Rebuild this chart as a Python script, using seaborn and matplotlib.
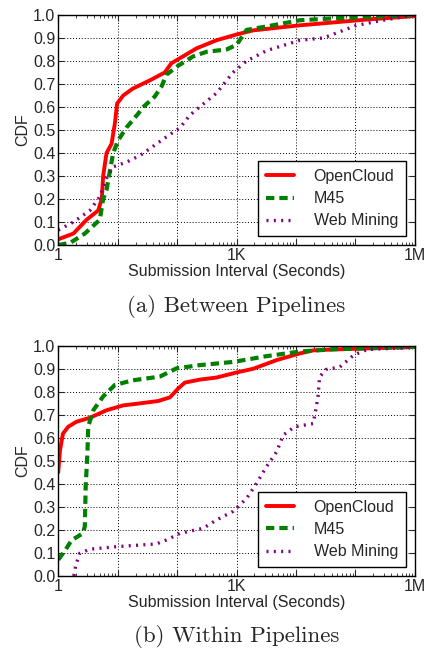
import numpy as np
import pandas as pd
import matplotlib
matplotlib.use("Agg")
import matplotlib.pyplot as plt
import matplotlib.ticker as mticker
import seaborn as sns

sns.set_style("ticks")
plt.rcParams['font.family'] = ['Liberation Sans', 'DejaVu Sans']

# ---- data: (a) Between Pipelines ----
a_open_x = [1, 1.8, 3, 4.7, 5.4, 5.7, 6.5, 7.9, 9, 9.8, 12.4, 18, 35, 62, 80, 126, 213, 460, 1000, 1900, 11700, 155000, 1e6]
a_open_y = [0.025, 0.05, 0.11, 0.15, 0.2, 0.3, 0.4, 0.44, 0.53, 0.615, 0.65, 0.68, 0.716, 0.75, 0.79, 0.82, 0.855, 0.89, 0.915, 0.933, 0.955, 0.98, 0.995]
a_m45_x = [1, 1.6, 2.8, 5, 5.7, 6.5, 8.4, 10.2, 14, 22, 27, 42, 55, 66, 105, 187, 315, 680, 1000, 1480, 3200, 11700, 42000, 1e6]
a_m45_y = [0.0, 0.01, 0.05, 0.11, 0.2, 0.24, 0.4, 0.455, 0.51, 0.57, 0.6, 0.645, 0.69, 0.74, 0.78, 0.82, 0.84, 0.85, 0.87, 0.935, 0.95, 0.977, 0.985, 1.0]
a_web_x = [1, 1.8, 3.4, 5, 6.5, 8.4, 14, 24, 40, 66, 112, 165, 240, 460, 870, 1480, 3200, 11700, 29000, 105000, 295000, 1e6]
a_web_y = [0.065, 0.1, 0.15, 0.21, 0.29, 0.34, 0.36, 0.39, 0.43, 0.47, 0.51, 0.565, 0.6, 0.66, 0.75, 0.8, 0.845, 0.89, 0.9, 0.955, 0.977, 1.0]

# ---- data: (b) Within Pipelines ----
b_open_x = [1, 1.07, 1.2, 1.47, 2.03, 3.4, 6.5, 12.4, 20.8, 48, 76, 105, 135, 240, 460, 1000, 1900, 4750, 11700, 19500, 42000, 1e6]
b_open_y = [0.45, 0.545, 0.618, 0.648, 0.67, 0.687, 0.72, 0.741, 0.748, 0.76, 0.776, 0.815, 0.84, 0.853, 0.862, 0.884, 0.9, 0.938, 0.967, 0.98, 0.984, 0.995]
b_m45_x = [1, 1.3, 1.68, 2.6, 2.8, 2.9, 3.1, 3.2, 3.9, 5.7, 9, 18, 51, 66, 98, 240, 890, 3200, 11700, 42000, 1e6]
b_m45_y = [0.07, 0.11, 0.155, 0.185, 0.215, 0.39, 0.535, 0.65, 0.72, 0.78, 0.83, 0.85, 0.866, 0.88, 0.902, 0.916, 0.93, 0.955, 0.975, 0.985, 0.995]
b_web_x = [1.83, 1.98, 2.3, 3.4, 9.6, 45, 66, 112, 275, 460, 870, 1480, 2170, 3200, 4750, 6100, 9500, 19500, 21500, 23500, 25000, 32000, 55000, 94000, 160000, 1e6]
b_web_y = [0.0, 0.048, 0.098, 0.116, 0.127, 0.139, 0.156, 0.185, 0.207, 0.243, 0.28, 0.337, 0.402, 0.475, 0.54, 0.612, 0.648, 0.662, 0.72, 0.778, 0.865, 0.897, 0.908, 0.96, 0.984, 0.993]

series_names = ["OpenCloud", "M45", "Web Mining"]
captions = ["(a) Between Pipelines", "(b) Within Pipelines"]
xtick_labels = {1: "1", 1e3: "1K", 1e6: "1M"}

colors = ["#ff0000", "#008000", "#800080"]
styles = ["-", (0, (2.0, 1.2)), (0, (0.6, 1.6, 0.6, 1.6))]
widths = [2.8, 3.0, 2.4]

fig = plt.figure(figsize=(4.25, 6.5), dpi=100)
ax_a = fig.add_axes([0.137, 0.623, 0.839, 0.354])
ax_b = fig.add_axes([0.137, 0.114, 0.839, 0.354])

panels = [
    (ax_a, [(a_open_x, a_open_y), (a_m45_x, a_m45_y), (a_web_x, a_web_y)]),
    (ax_b, [(b_open_x, b_open_y), (b_m45_x, b_m45_y), (b_web_x, b_web_y)]),
]

for i, (ax, data) in enumerate(panels):
    for name, (xs, ys), c, ls, lw in zip(series_names, data, colors, styles, widths):
        df = pd.DataFrame({"x": xs, "y": ys})
        sns.lineplot(data=df, x="x", y="y", ax=ax, color=c, linestyle=ls,
                     linewidth=lw, label=name, sort=False, estimator=None)
    ax.set_xscale("log")
    ax.set_xlim(1, 1e6)
    ax.set_ylim(0, 1.0)
    ax.xaxis.set_major_locator(mticker.LogLocator(base=10, numticks=10))
    ax.xaxis.set_major_formatter(mticker.FuncFormatter(
        lambda v, p: xtick_labels.get(round(v, 6), "")))
    ax.xaxis.set_minor_locator(mticker.LogLocator(base=10, subs=np.arange(2, 10), numticks=20))
    ax.xaxis.set_minor_formatter(mticker.NullFormatter())
    ax.set_yticks(np.arange(0, 1.01, 0.1))
    ax.yaxis.set_major_formatter(mticker.FormatStrFormatter("%.1f"))
    ax.tick_params(axis="both", which="major", direction="in", length=4,
                   labelsize=11.5, top=True, right=True, pad=2)
    ax.tick_params(axis="x", which="minor", direction="in", length=2, top=True)
    ax.grid(True, which="major", color="black", linestyle=(0, (1, 2)), linewidth=0.7)
    for s in ax.spines.values():
        s.set_linewidth(1.0)
        s.set_color("black")
    ax.set_xlabel("Submission Interval (Seconds)", fontsize=11.5, labelpad=1)
    ax.set_ylabel("CDF", fontsize=11.5, labelpad=2)
    leg = ax.legend(loc="lower right", fontsize=11.5, frameon=True, fancybox=False,
                    edgecolor="black", framealpha=1, handlelength=1.8,
                    borderpad=0.5, labelspacing=0.45, handletextpad=1.2,
                    borderaxespad=0.55)
    leg.get_frame().set_linewidth(1.0)
    ax.text(0.5, -0.215, captions[i], transform=ax.transAxes, ha="center", va="top",
            fontsize=16.5, family=["cmr10", "DejaVu Serif"])

fig.savefig("out.png", dpi=100)
